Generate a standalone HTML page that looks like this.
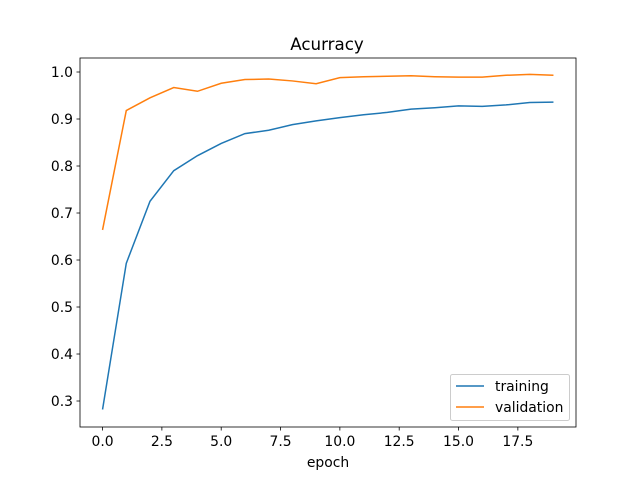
<!DOCTYPE html>
<html><head><meta charset="utf-8"><style>
body{margin:0;background:#fff;font-family:"DejaVu Sans","Liberation Sans",sans-serif;}
svg text{font-family:"DejaVu Sans","Liberation Sans",sans-serif;fill:#000;}
</style></head><body>
<svg id="chart" width="640" height="480" xmlns="http://www.w3.org/2000/svg"></svg>
<script>
const epochs=[0,1,2,3,4,5,6,7,8,9,10,11,12,13,14,15,16,17,18,19];
const training=[0.282,0.593,0.725,0.790,0.822,0.848,0.869,0.876,0.888,0.896,0.903,0.909,0.914,0.921,0.924,0.928,0.927,0.930,0.935,0.936];
const validation=[0.664,0.918,0.945,0.967,0.959,0.976,0.984,0.985,0.981,0.975,0.988,0.990,0.991,0.992,0.990,0.989,0.989,0.993,0.995,0.993];
const xTicks=[0,2.5,5,7.5,10,12.5,15,17.5];
const yTicks=[0.3,0.4,0.5,0.6,0.7,0.8,0.9,1.0];
const L=80,R=576,T=58,B=427;
const xmin=-0.95,xmax=19.95,ymin=0.2447,ymax=1.0298;
const sx=v=>L+(v-xmin)/(xmax-xmin)*(R-L);
const sy=v=>B-(v-ymin)/(ymax-ymin)*(B-T);
const svg=document.getElementById('chart');
const NS='http://www.w3.org/2000/svg';
function mk(tag,attrs,name,parent){const e=document.createElementNS(NS,tag);for(const k in attrs)e.setAttribute(k,attrs[k]);


(parent||svg).appendChild(e);return e;}
function txt(x,y,s,name,anchor,size){const t=mk('text',{x:x,y:y,'text-anchor':anchor,'font-size':size},name);t.textContent=s;return t;}
txt(327,50,'Acurracy','chart-title','middle',16.7);
xTicks.forEach(v=>{const x=sx(v);mk('line',{x1:x,x2:x,y1:B,y2:B+3.5,stroke:'#000','stroke-width':0.8},'x-tick');
txt(x,446,v.toFixed(1),'x-tick-label','middle',13.9);});
yTicks.forEach(v=>{const y=sy(v);mk('line',{x1:L-3.5,x2:L,y1:y,y2:y,stroke:'#000','stroke-width':0.8},'y-tick');
txt(L-7,y+5,v.toFixed(1),'y-tick-label','end',13.9);});
txt(328,467,'epoch','x-axis-title','middle',13.9);
function line(data,color,name){mk('polyline',{points:data.map((v,i)=>sx(epochs[i])+','+sy(v)).join(' '),fill:'none',stroke:color,'stroke-width':1.5},name);}
line(training,'#1f77b4','training-line');
line(validation,'#ff7f0e','validation-line');
mk('rect',{x:L,y:T,width:R-L,height:B-T,fill:'none',stroke:'#000','stroke-width':0.8},'plot-frame');
const g=mk('g',{},'legend');
mk('rect',{x:450.5,y:374.5,width:119,height:46,rx:2,fill:'#fff','fill-opacity':0.8,stroke:'#ccc'},'legend-box',g);
mk('line',{x1:456,x2:484,y1:386,y2:386,stroke:'#1f77b4','stroke-width':1.5},'legend-training-swatch',g);
mk('line',{x1:456,x2:484,y1:407,y2:407,stroke:'#ff7f0e','stroke-width':1.5},'legend-validation-swatch',g);
txt(495,391,'training','legend-training-label','start',13.9);
txt(495,412,'validation','legend-validation-label','start',13.9);
</script>
</body></html>
